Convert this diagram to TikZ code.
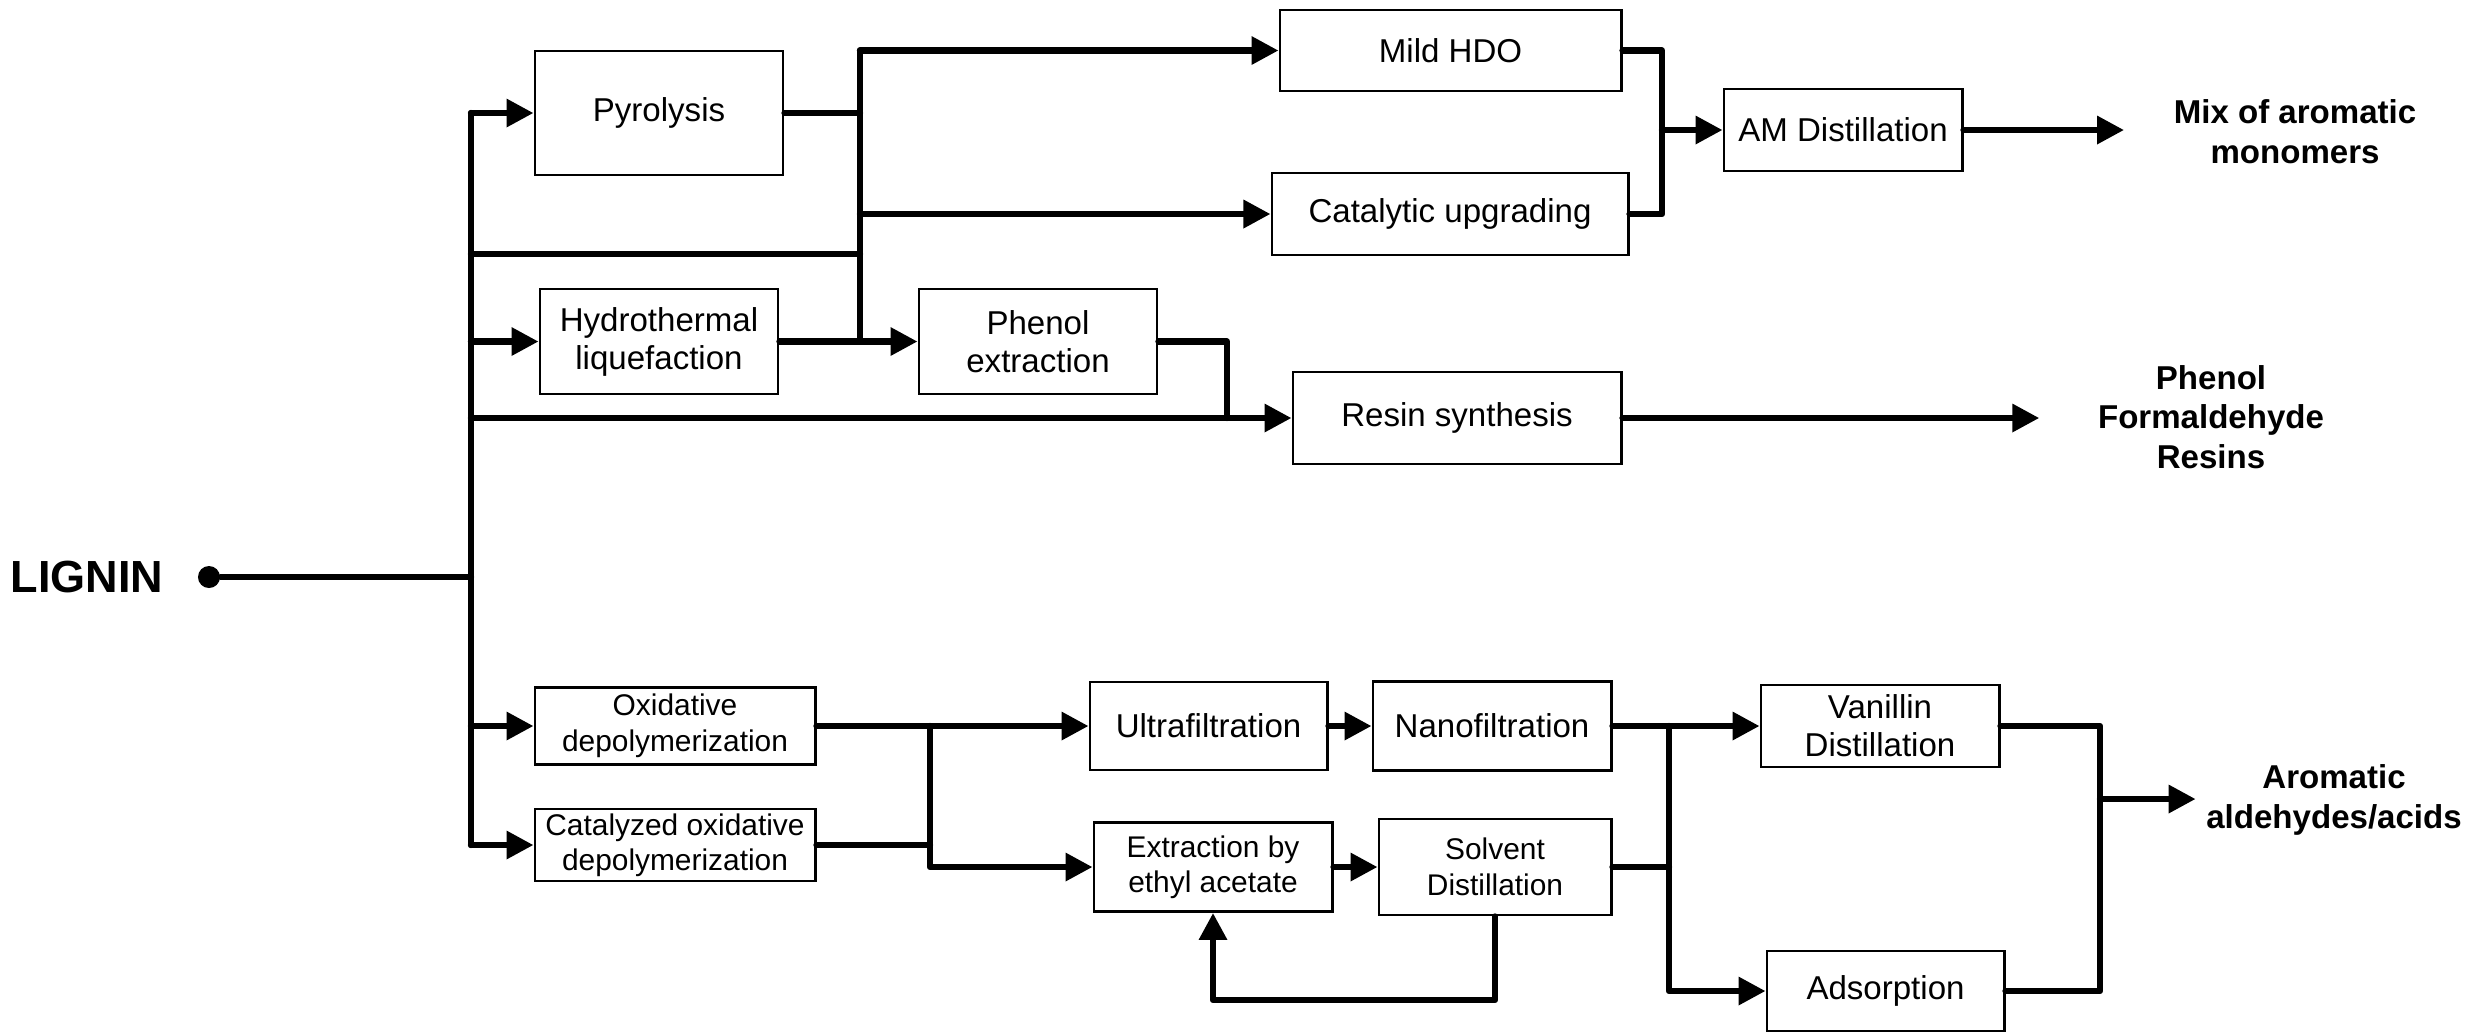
\documentclass[tikz,border=0pt]{standalone}
\usepackage{fontspec}
\setmainfont{Liberation Sans}
\usetikzlibrary{arrows.meta}

\begin{document}
\begin{tikzpicture}[x=0.01cm, y=-0.01cm,
		proc/.style={draw, line width=0.8pt, inner sep=0pt, align=center, font=\fontsize{9.4}{10.8}\selectfont},
		procsmall/.style={proc, font=\fontsize{8.5}{10.1}\selectfont},
		prod/.style={inner sep=0pt, align=center, font=\fontsize{9.4}{11.3}\selectfont\bfseries},
		flow/.style={line width=1.8pt, line cap=round, line join=round},
		flowto/.style={flow, -{Triangle[length=0.27cm, width=0.27cm]}}]
		\useasboundingbox ( 0, 0 ) rectangle ( 2489, 1032 );

		% сырьё
		\node [prod, font=\fontsize{12.8}{14}\selectfont\bfseries] (lignin) at ( 87, 577 ) {LIGNIN};
		\node [circle, fill, inner sep=0pt, minimum size=0.22cm] (src) at ( 209, 577 ) {};

		% верхняя ветвь
		\node [proc, minimum width=2.48cm, minimum height=1.24cm] (pyro) at ( 659, 113 ) {Pyrolysis};
		\node [proc, minimum width=2.38cm, minimum height=1.05cm] (htl) at ( 659, 341.5 ) {Hydrothermal\\liquefaction};
		\node [proc, minimum width=2.38cm, minimum height=1.05cm] (phex) at ( 1038, 341.5 ) {Phenol\\extraction};
		\node [proc, minimum width=3.41cm, minimum height=0.81cm] (hdo) at ( 1450.5, 50.5 ) {Mild HDO};
		\node [proc, minimum width=3.56cm, minimum height=0.82cm] (catup) at ( 1450, 214 ) {Catalytic upgrading};
		\node [proc, minimum width=2.38cm, minimum height=0.82cm] (amdist) at ( 1843, 130 ) {AM Distillation};
		\node [proc, minimum width=3.28cm, minimum height=0.92cm] (resin) at ( 1457, 418 ) {Resin synthesis};

		% нижняя ветвь
		\node [procsmall, minimum width=2.80cm, minimum height=0.77cm] (oxdep) at ( 675, 726 ) {Oxidative\\depolymerization};
		\node [procsmall, minimum width=2.80cm, minimum height=0.72cm] (catox) at ( 675, 845 ) {Catalyzed oxidative\\depolymerization};
		\node [proc, minimum width=2.37cm, minimum height=0.88cm] (ultra) at ( 1208.5, 726 ) {Ultrafiltration};
		\node [procsmall, minimum width=2.38cm, minimum height=0.89cm] (extr) at ( 1213, 867 ) {Extraction by\\ethyl acetate};
		\node [proc, minimum width=2.38cm, minimum height=0.89cm] (nano) at ( 1492, 726 ) {Nanofiltration};
		\node [procsmall, minimum width=2.32cm, minimum height=0.96cm] (solv) at ( 1495, 867 ) {Solvent\\Distillation};
		\node [proc, minimum width=2.38cm, minimum height=0.82cm] (vanil) at ( 1880, 726 ) {Vanillin\\Distillation};
		\node [proc, minimum width=2.37cm, minimum height=0.80cm] (adsorp) at ( 1885.5, 991 ) {Adsorption};

		% продукты
		\node [prod] (mix) at ( 2295, 132 ) {Mix of aromatic\\monomers};
		\node [prod] (pf) at ( 2211, 417 ) {Phenol\\Formaldehyde\\Resins};
		\node [prod] (arom) at ( 2334, 800 ) {Aromatic\\aldehydes/acids};

		% главная магистраль
		\coordinate (tk) at ( 471, 577 );
		\draw [flow] (src) -- (tk);
		\draw [flow] (pyro.west -| tk) -- (catox.west -| tk);
		\draw [flowto] (pyro.west -| tk) -- (pyro.west);
		\draw [flowto] (htl.west -| tk) -- (htl.west);
		\draw [flowto] (oxdep.west -| tk) -- (oxdep.west);
		\draw [flowto] (catox.west -| tk) -- (catox.west);

		% пиролиз и гидротермальное ожижение
		\coordinate (ja) at ( 860, 254 );
		\draw [flow] (ja -| tk) -- (ja);
		\draw [flow] (hdo.west -| ja) -- (htl.east -| ja);
		\draw [flow] (pyro.east) -- (pyro.east -| ja);
		\draw [flowto] (hdo.west -| ja) -- (hdo.west);
		\draw [flowto] (catup.west -| ja) -- (catup.west);
		\draw [flowto] (htl.east) -- (phex.west);

		% смолы
		\coordinate (jr) at ( 1227, 418 );
		\draw [flow] (phex.east) -| (jr);
		\draw [flowto] (resin.west -| tk) -- (resin.west);
		\draw [flowto, shorten >=0.58cm] (resin.east) -- (resin.east -| pf.west);

		% ароматические мономеры
		\coordinate (jm) at ( 1662, 130 );
		\draw [flow] (hdo.east) -| (jm) |- (catup.east);
		\draw [flowto] (jm) -- (amdist.west);
		\draw [flowto, shorten >=0.49cm] (amdist.east) -- (amdist.east -| mix.west);

		% окислительная деполимеризация
		\coordinate (jo) at ( 930, 726 );
		\draw [flowto] (oxdep.east) -- (ultra.west);
		\draw [flow] (catox.east) -- (catox.east -| jo);
		\draw [flowto] (jo) |- (extr.west);
		\draw [flowto] (ultra.east) -- (nano.west);
		\draw [flowto] (extr.east) -- (solv.west);
		\coordinate (fb) at ( 0, 1000 );
		\draw [flowto] (solv.south) -- (solv.south |- fb) -| (extr.south);

		% альдегиды и кислоты
		\coordinate (jv) at ( 1669, 726 );
		\draw [flowto] (nano.east) -- (vanil.west);
		\draw [flow] (solv.east) -- (solv.east -| jv);
		\draw [flowto] (jv) |- (adsorp.west);
		\coordinate (jp) at ( 2100, 799 );
		\draw [flow] (vanil.east) -| (jp) |- (adsorp.east);
		\draw [flowto, shorten >=0.1cm] (jp) -- (jp -| arom.west);
	\end{tikzpicture}
\end{document}
